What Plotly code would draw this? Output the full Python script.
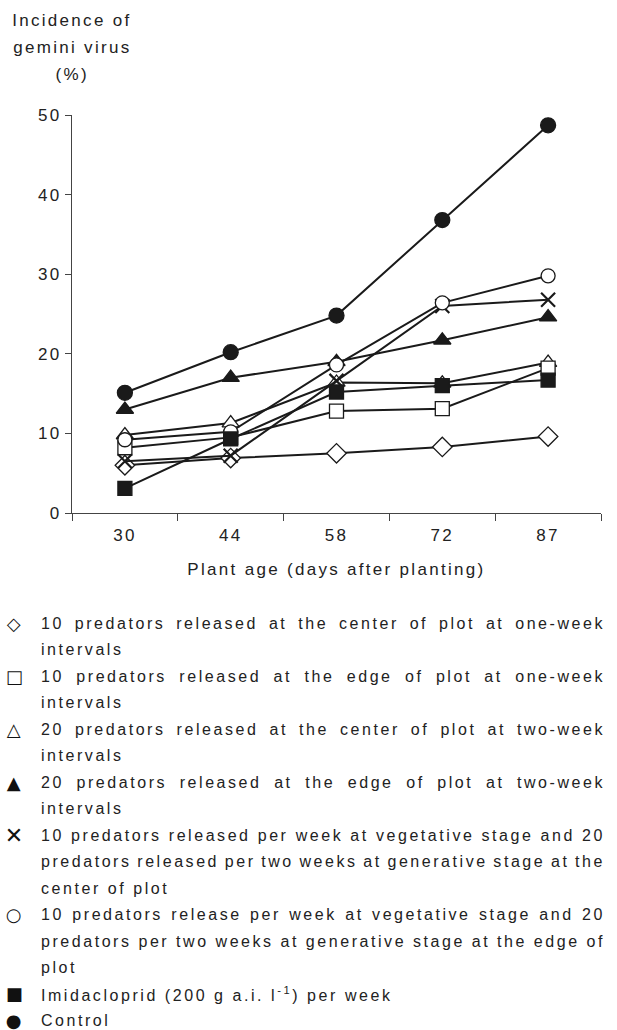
import plotly.graph_objects as go
import json

# ---- data ----
days = ["30", "44", "58", "72", "87"]

center_1wk = [6.0, 6.9, 7.5, 8.3, 9.6]        # open diamond
edge_1wk = [8.2, 9.5, 12.8, 13.1, 18.2]       # open square
center_2wk = [9.8, 11.3, 16.4, 16.3, 18.9]    # open triangle
edge_2wk = [13.0, 17.0, 19.0, 21.7, 24.6]     # filled triangle
mixed_center = [6.5, 7.2, 16.6, 26.0, 26.8]   # cross
mixed_edge = [9.2, 10.2, 18.6, 26.4, 29.8]    # open circle
imidacloprid = [3.1, 9.3, 15.2, 16.0, 16.7]   # filled square
control = [15.1, 20.2, 24.8, 36.8, 48.7]      # filled circle

y_ticks = [0, 10, 20, 30, 40, 50]

title_lines = ["Incidence of", "gemini virus", "(%)"]
x_title = "Plant age (days after planting)"

legend_symbols = ["\u25c7", "\u25a1", "\u25b3", "\u25b2", "\u2715", "\u25cb", "\u25a0", "\u25cf"]
legend_lines = [
    ["10 predators released at the center of plot at one-week", "intervals"],
    ["10 predators released at the edge of plot at one-week", "intervals"],
    ["20 predators released at the center of plot at two-week", "intervals"],
    ["20 predators released at the edge of plot at two-week", "intervals"],
    ["10 predators released per week at vegetative stage and 20",
     "predators released per two weeks at generative stage at the",
     "center of plot"],
    ["10 predators release per week at vegetative stage and 20",
     "predators per two weeks at generative stage at the edge of",
     "plot"],
    ["Imidacloprid (200 g a.i. l<sup>-1</sup>) per week"],
    ["Control"],
]

FONT = "Liberation Sans, Arial, sans-serif"
INK = "#1a1a1a"

series = [
    (center_1wk, "diamond", "white", 15),
    (center_2wk, "triangle-up", "white", 15),
    (edge_1wk, "square", "white", 14),
    (edge_2wk, "triangle-up", INK, 15),
    (mixed_center, "x-thin-open", INK, 14),
    (mixed_edge, "circle", "white", 14),
    (imidacloprid, "square", INK, 14),
    (control, "circle", INK, 15),
]

fig = go.Figure()
for vals, sym, fill, size in series:
    fig.add_trace(go.Scatter(
        x=days, y=vals, mode="lines+markers",
        line=dict(color=INK, width=2),
        marker=dict(symbol=sym, size=size, color=fill,
                    line=dict(color=INK, width=2.2 if sym == "x-thin-open" else 1.3)),
        showlegend=False, cliponaxis=False,
    ))

W, H = 617, 1030
ML, MR, MT, MB = 72, 16, 115, 517


def px_x(px):
    return (px - ML) / (W - ML - MR)


def px_y(py):
    return 1 - (py - MT) / (H - MT - MB)


annotations = []
for i, t in enumerate(title_lines):
    annotations.append(dict(text=t, x=px_x(72), y=px_y(21 + 26.5 * i), xref="paper", yref="paper",
                            showarrow=False, xanchor="center", yanchor="middle",
                            font=dict(size=17, color="#222", family=FONT)))

annotations.append(dict(text=x_title, x=px_x(336), y=px_y(569), xref="paper", yref="paper",
                        showarrow=False, xanchor="center", yanchor="middle",
                        font=dict(size=17, color="#222", family=FONT)))

justified = []
row = 0
for sym, lines in zip(legend_symbols, legend_lines):
    yc = 623 + 26.5 * row
    annotations.append(dict(text=sym, x=px_x(15), y=px_y(yc), xref="paper", yref="paper",
                            showarrow=False, xanchor="center", yanchor="middle",
                            font=dict(size=22 if sym == "\u2715" else 18, color="#111",
                                      family="DejaVu Sans")))
    for j, ln in enumerate(lines):
        yl = 623 + 26.5 * row
        annotations.append(dict(text=ln, x=px_x(39), y=px_y(yl), xref="paper", yref="paper",
                                showarrow=False, xanchor="left", yanchor="middle", align="left",
                                font=dict(size=16, color="#222", family=FONT)))
        if j < len(lines) - 1:
            justified.append(ln)
        row += 1

fig.update_layout(
    width=W, height=H,
    margin=dict(l=ML, r=MR, t=MT, b=MB),
    paper_bgcolor="white", plot_bgcolor="white",
    font=dict(family=FONT, size=17, color="#222"),
    xaxis=dict(type="category", categoryorder="array", categoryarray=days,
               range=[-0.5, 4.5], tickson="boundaries", ticks="outside", ticklen=7,
               tickcolor="#444", tickwidth=1.2, showline=True, linecolor="#444", linewidth=1.2,
               showgrid=False, zeroline=False, ticklabelstandoff=6,
               tickfont=dict(size=17, color="#222")),
    yaxis=dict(range=[0, 50], tickvals=y_ticks, ticks="outside", ticklen=6,
               tickcolor="#444", tickwidth=1.2, showline=True, linecolor="#444", linewidth=1.2,
               showgrid=False, zeroline=False, tickfont=dict(size=17, color="#222")),
    annotations=annotations,
    showlegend=False,
)

post = """
document.body.style.margin = '0';
var gd = document.getElementById('{plot_id}');
var J = %s;
gd.querySelectorAll('text').forEach(function(t){
  t.style.letterSpacing = (t.style.fontSize === '16px') ? '2.55px' : '2.3px';
});
gd.querySelectorAll('g.annotation text').forEach(function(t){
  var s = t.textContent;
  if (J.indexOf(s) >= 0) {
    t.style.wordSpacing = '0px';
    var w = t.getComputedTextLength();
    var n = (s.match(/ /g) || []).length;
    if (n > 0) { t.style.wordSpacing = ((564 - w) / n) + 'px'; }
  }
});
""" % json.dumps(justified)

fig.write_html("out.html", post_script=post, config={"displayModeBar": False})
